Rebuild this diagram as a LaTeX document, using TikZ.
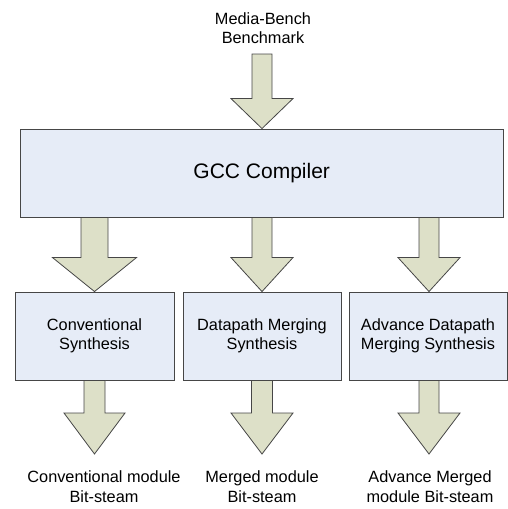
\documentclass[tikz,border=0pt]{standalone}
\usepackage{fontspec}
\setmainfont{Liberation Sans}
\usetikzlibrary{calc}
\definecolor{boxfill}{RGB}{230,236,247}
\definecolor{arrfill}{RGB}{221,224,200}
\definecolor{edge}{RGB}{70,70,70}
\tikzset{
  stagebox/.style={draw=edge, line width=0.9pt, fill=boxfill, minimum height=88pt, inner sep=0pt, align=center, font=\fontsize{16.3}{19.5}\selectfont},
  lbl/.style={align=center, inner sep=0pt, font=\fontsize{16.3}{19.5}\selectfont},
  barrow/.style={draw=edge, line width=0.8pt, fill=arrfill, line join=miter}
}
\newcommand{\blockarrow}[5]{%
  \draw[barrow] let \p1=#1, \p2=#2 in
    (\x1-#3,\y1) -- (\x1+#3,\y1) -- (\x1+#3,\y2+#5) -- (\x1+#4,\y2+#5) -- (\x2,\y2)
    -- (\x1-#4,\y2+#5) -- (\x1-#3,\y2+#5) -- cycle;}
\begin{document}
\begin{tikzpicture}[x=1pt,y=-1pt]
\useasboundingbox (0,0) rectangle (507,509);
% nodes
\node[lbl] (src) at (263,28) {Media-Bench\\Benchmark};
\node[stagebox, minimum width=482.5pt, font=\fontsize{21}{25}\selectfont] (gcc) at (261.75,173) {GCC Compiler};
\node[stagebox, minimum width=159pt] (b1) at (94.5,336) {Conventional\\Synthesis};
\node[stagebox, minimum width=158pt] (b2) at (262,336) {Datapath Merging\\Synthesis};
\node[stagebox, minimum width=158pt] (b3) at (428,336) {Advance Datapath\\Merging Synthesis};
\node[lbl] (o1) at (104,486.5) {Conventional module\\Bit-steam};
\node[lbl] (o2) at (262,486.5) {Merged module\\Bit-steam};
\node[lbl] (o3) at (430,486.5) {Advance Merged\\module Bit-steam};
\coordinate (a0top) at (262,54);
\coordinate (t1) at (94.5,454);
\coordinate (t2) at (262,454);
\coordinate (t3) at (429,454);
% arrows
\blockarrow{(a0top)}{(a0top |- gcc.north)}{10pt}{31pt}{30pt}
\blockarrow{(gcc.south -| b1.north)}{(b1.north)}{13.5pt}{42pt}{34pt}
\blockarrow{(gcc.south -| b2.north)}{(b2.north)}{10pt}{31pt}{34pt}
\blockarrow{(gcc.south -| t3)}{(b3.north -| t3)}{10pt}{31pt}{34pt}
\blockarrow{(b1.south)}{(t1)}{10.5pt}{30.5pt}{41pt}
\blockarrow{(b2.south)}{(t2)}{10.5pt}{31pt}{41pt}
\blockarrow{(b3.south -| t3)}{(t3)}{10pt}{31pt}{41pt}
\end{tikzpicture}
\end{document}
